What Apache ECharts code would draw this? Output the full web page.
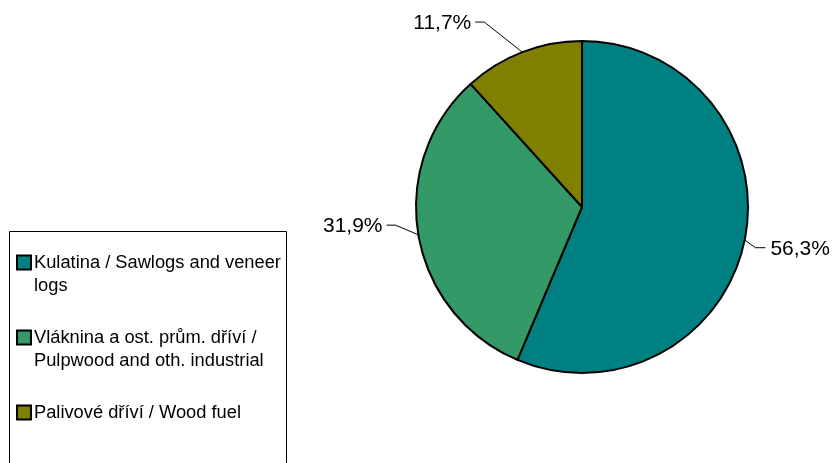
<!DOCTYPE html>
<html>
<head>
<meta charset="utf-8">
<style>html,body{margin:0;padding:0;background:#fff}#c{width:836px;height:463px}</style>
<script src="https://cdn.jsdelivr.net/npm/echarts@6/dist/echarts.min.js"></script>
</head>
<body>
<div id="c"></div>
<script>
const categories = ['Kulatina / Sawlogs and veneer logs', 'Vláknina a ost. prům. dříví / Pulpwood and oth. industrial', 'Palivové dříví / Wood fuel'];
const legendLines = [['Kulatina / Sawlogs and veneer', 'logs'], ['Vláknina a ost. prům. dříví /', 'Pulpwood and oth. industrial'], ['Palivové dříví / Wood fuel']];
const values = [56.3, 31.9, 11.7];
const colors = ['#008080', '#339966', '#808000'];

const FONT = '"Liberation Sans", Arial, sans-serif';
const labelShift = [[-3, 6], [-7, -11], [-31, -16]];
const rich = { t: { fontSize: 18.3, fontFamily: FONT, color: '#000', lineHeight: 23, padding: [0, 0, 0, 4] },
               t2: { fontSize: 18.3, fontFamily: FONT, color: '#000', lineHeight: 23, padding: [0, 0, 0, 16] } };
colors.forEach((c, i) => { rich['m' + i] = { width: 12, height: 12, backgroundColor: c, borderColor: '#000', borderWidth: 2, lineHeight: 23 }; });

function layoutLabel(p) {
  const s = labelShift[p.dataIndex];
  const r = p.labelRect;
  const pts = p.labelLinePoints;
  const out = { dx: s[0], dy: s[1] };
  if (pts && pts.length) {
    const cy = r.y + s[1] + r.height / 2 - 1;
    const onRight = pts[0][0] < r.x;
    let end, mid;
    if (onRight) {
      end = [r.x + s[0] - 5, cy];
      mid = [end[0] - 10, cy];
    } else {
      end = [r.x + r.width + s[0] + 4, cy];
      mid = [end[0] + 9, cy];
    }
    out.labelLinePoints = [pts[0], mid, end];
  }
  return out;
}

const chart = echarts.init(document.getElementById('c'), null, { renderer: 'canvas' });
chart.setOption({
  animation: false,
  color: colors,
  graphic: [{ type: 'rect', shape: { x: 9.5, y: 231.5, width: 277, height: 300 }, style: { fill: 'none', stroke: '#000', lineWidth: 1 }, z: -1 }],
  legend: {
    orient: 'vertical', left: 12, top: 251, padding: 0, itemGap: 29,
    itemWidth: 0, itemHeight: 0, icon: 'rect',
    selectedMode: false,
    data: categories,
    formatter: name => {
      const i = categories.indexOf(name);
      const L = legendLines[i];
      let s = '{m' + i + '|}{t|' + L[0] + '}';
      if (L[1]) s += '\n{t2|' + L[1] + '}';
      return s;
    },
    textStyle: { rich: rich, fontSize: 18.3, fontFamily: FONT, lineHeight: 23 }
  },
  series: [{
    type: 'pie',
    center: [582, 207],
    radius: 166,
    startAngle: 90,
    clockwise: true,
    data: categories.map((n, i) => ({ name: n, value: values[i] })),
    itemStyle: { borderColor: '#000', borderWidth: 2 },
    emphasis: { disabled: true },
    label: {
      show: true, position: 'outside', color: '#000', fontSize: 21, fontFamily: FONT,
      overflow: 'none', edgeDistance: 0,
      formatter: p => p.value.toFixed(1).replace('.', ',') + '%'
    },
    labelLine: { show: true, length: 14, length2: 10, lineStyle: { color: '#000', width: 1 } },
    labelLayout: layoutLabel
  }]
});
</script>
</body>
</html>
